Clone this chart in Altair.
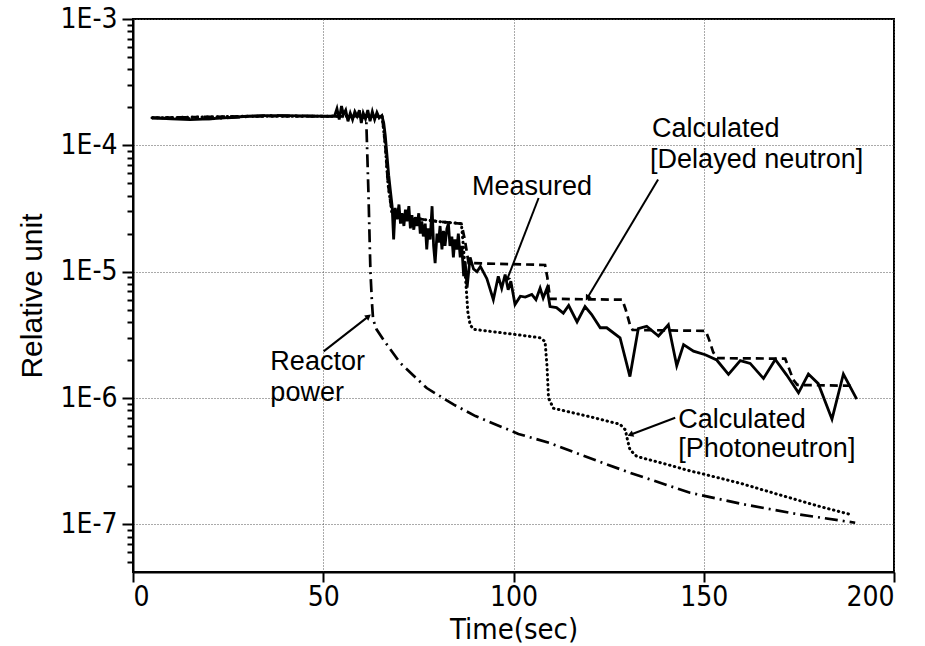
import altair as alt
import pandas as pd

# ---------------- data ----------------
meas_t = [5, 10, 15, 20, 25, 30, 35, 40, 45, 50, 52, 53, 53.6, 54.2, 54.8, 55.3, 55.9, 56.5, 57.1,
          57.7, 58.3, 58.9, 59.5, 60.0, 60.5, 61.1, 61.7, 62.3, 62.9, 63.5, 64.1, 64.7, 65.4, 65.9,
          66.3, 66.8, 67.2, 67.6, 68.1, 68.5, 68.9, 69.4, 69.9, 70.3, 70.7, 71.2, 71.6, 72.0, 72.5,
          72.9, 73.3, 73.8, 74.2, 74.6, 75.1, 75.5, 75.9, 76.3, 76.8, 77.2, 77.6, 78.1, 78.6, 79.0,
          79.4, 79.9, 80.3, 80.7, 81.2, 81.6, 82.0, 82.5, 82.9, 83.3, 83.8, 84.2, 84.6, 85.1, 85.5,
          86.0, 86.4, 86.9, 87.3, 87.8, 88.6, 89.5, 90.4, 91.3, 93.0, 94.7, 96.0, 96.9, 97.8, 98.6,
          99.3, 100.4, 101.8, 103.1, 104.8, 105.9, 107.0, 107.8, 108.8, 109.6, 111.3, 113.1, 114.5,
          116.7, 118.8, 120.5, 122.8, 124.5, 128.0, 130.6, 132.8, 135.0, 138.1, 140.7, 142.9, 144.7,
          147.3, 150.4, 153.4, 156.5, 159.6, 162.2, 165.7, 168.8, 171.8, 174.9, 177.5, 180.1, 183.7,
          186.7, 190.2]
meas_v = [1.65e-4, 1.62e-4, 1.6e-4, 1.62e-4, 1.66e-4, 1.7e-4, 1.72e-4, 1.72e-4, 1.71e-4, 1.7e-4,
          1.7e-4, 1.72e-4, 1.95e-4, 1.6e-4, 2.05e-4, 1.75e-4, 1.9e-4, 1.55e-4, 1.8e-4, 1.6e-4,
          1.85e-4, 1.7e-4, 1.9e-4, 1.5e-4, 1.8e-4, 1.62e-4, 1.9e-4, 1.55e-4, 1.85e-4, 1.6e-4,
          1.82e-4, 1.65e-4, 1.72e-4, 1.5e-4, 1.2e-4, 8e-5, 5.8e-5, 4.5e-5, 3.3e-5, 1.8e-5, 3.2e-5,
          2.6e-5, 3.4e-5, 2.4e-5, 2.9e-5, 2.3e-5, 3.1e-5, 2.5e-5, 3.3e-5, 2.2e-5, 2.8e-5, 2.15e-5,
          2.7e-5, 2.3e-5, 2.9e-5, 2.0e-5, 2.5e-5, 1.9e-5, 2.4e-5, 1.5e-5, 2.2e-5, 1.8e-5, 3.3e-5,
          1.6e-5, 1.17e-5, 2.0e-5, 1.7e-5, 2.3e-5, 1.5e-5, 2.1e-5, 1.6e-5, 2.2e-5, 2.4e-5, 1.6e-5,
          1.9e-5, 1.3e-5, 1.8e-5, 1.5e-5, 2.0e-5, 1.3e-5, 1.6e-5, 9.2e-6, 1.2e-5, 7.5e-6, 1.3e-5,
          1.05e-5, 1.0e-5, 1.1e-5, 8.8e-6, 6.0e-6, 9.2e-6, 7.4e-6, 9.5e-6, 7.2e-6, 8.4e-6, 5.5e-6,
          6.4e-6, 6.3e-6, 6.6e-6, 6.0e-6, 7.4e-6, 6.2e-6, 7.4e-6, 5.3e-6, 5.2e-6, 4.7e-6, 5.4e-6,
          4.0e-6, 5.3e-6, 4.6e-6, 3.6e-6, 3.6e-6, 3.0e-6, 1.48e-6, 3.55e-6, 3.7e-6, 3.1e-6, 3.8e-6,
          1.8e-6, 2.65e-6, 2.35e-6, 2.2e-6, 2.0e-6, 1.54e-6, 1.98e-6, 1.88e-6, 1.43e-6, 2.02e-6,
          1.52e-6, 1.1e-6, 1.55e-6, 1.3e-6, 6.8e-7, 1.55e-6, 9.8e-7]

delay_t = [5, 30, 50, 64, 65.5, 66.3, 67, 68, 72, 80, 86.3, 87.2, 88.2, 108.3, 108.9, 109.6,
           128.6, 129.5, 130.6, 131.3, 150.5, 151.4, 152.5, 153.5, 171.4, 172.3, 173.5, 174.6, 189.8]
delay_v = [1.65e-4, 1.7e-4, 1.7e-4, 1.7e-4, 1.68e-4, 1.0e-4, 5e-5, 3.0e-5, 2.7e-5, 2.5e-5,
           2.4e-5, 1.8e-5, 1.17e-5, 1.13e-5, 9e-6, 6.1e-6, 6.0e-6, 5.0e-6, 3.8e-6, 3.46e-6,
           3.4e-6, 2.9e-6, 2.3e-6, 2.07e-6, 2.05e-6, 1.75e-6, 1.4e-6, 1.27e-6, 1.25e-6]

photo_t = [5, 30, 50, 64, 65.5, 66.3, 67, 68, 72, 80, 86.3, 86.9, 87.5, 88.0, 88.6, 89.5, 100,
           107, 108.3, 108.8, 109.2, 110.5, 120.2, 128.0, 129.4, 130.0, 130.6, 132.4, 140, 146.4,
           150, 160, 170.9, 180, 188.9]
photo_v = [1.65e-4, 1.7e-4, 1.7e-4, 1.7e-4, 1.68e-4, 1.0e-4, 5e-5, 3.0e-5, 2.7e-5, 2.5e-5,
           2.4e-5, 1.5e-5, 8e-6, 4.8e-6, 3.8e-6, 3.5e-6, 3.2e-6, 3.0e-6, 2.8e-6, 1.8e-6, 1.0e-6,
           8.3e-7, 7.1e-7, 6.2e-7, 5.6e-7, 4.6e-7, 3.9e-7, 3.45e-7, 3.0e-7, 2.65e-7, 2.5e-7,
           2.1e-7, 1.68e-7, 1.4e-7, 1.19e-7]

power_t = [5, 20, 35, 50, 60, 61.3, 61.9, 62.4, 62.8, 63.1, 64.0, 65.8, 70.2, 77.2, 84.2, 90,
           101.3, 109.6, 118.3, 130, 146.4, 160, 175, 189.8]
power_v = [1.65e-4, 1.62e-4, 1.72e-4, 1.7e-4, 1.7e-4, 1.6e-4, 4e-5, 1e-5, 5.7e-6, 4.2e-6,
           3.5e-6, 2.9e-6, 1.9e-6, 1.2e-6, 8.9e-7, 7.2e-7, 5.2e-7, 4.4e-7, 3.5e-7, 2.6e-7,
           1.78e-7, 1.45e-7, 1.2e-7, 1.03e-7]

# annotation leader lines (start t, start v, end t, end v) and arrow-head angles
ann_t1 = [106.6, 138.0, 50.1, 142.5]
ann_v1 = [3.83e-5, 5.36e-5, 2.34e-6, 6.98e-7]
ann_t2 = [98.3, 119.4, 61.9, 130.7]
ann_v2 = [8.65e-6, 6.19e-6, 4.43e-6, 5.12e-7]
ann_angle = [201, 211, 52, 249]

label_text = ["Measured", "Calculated", "[Delayed neutron]", "Reactor", "power",
              "Calculated", "[Photoneutron]"]
label_t = [89.1, 136.4, 135.9, 36.1, 36.1, 143.3, 143.3]
label_v = [4.07e-5, 1.17e-4, 6.65e-5, 1.66e-6, 9.5e-7, 5.8e-7, 3.4e-7]

x_ticks = [0, 50, 100, 150, 200]
y_ticks = [m * 10.0 ** e for e in range(-8, -2) for m in range(1, 10)
           if 4.2e-8 <= m * 10.0 ** e <= 1.0001e-3]

# ---------------- chart ----------------
FONT = "Liberation Sans"
NARROW = "DejaVu Sans Condensed, Liberation Sans"
MAJOR = "abs(log(datum.value)/LN10 - round(log(datum.value)/LN10)) < 0.001"
xscale = alt.Scale(domain=[0, 200], nice=False, zero=False)
yscale = alt.Scale(type="log", domain=[4.2e-8, 1e-3], nice=False)
xenc = alt.X("t:Q", scale=xscale,
             axis=alt.Axis(values=x_ticks, title="Time(sec)", ticks=True, tickSize=10,
                           tickWidth=2, labelPadding=1, titlePadding=4, grid=True,
                           format="d", labelFont=NARROW, labelFontSize=28,
                           titleFont=NARROW, titleFontSize=29))
yenc = alt.Y("v:Q", scale=yscale,
             axis=alt.Axis(values=y_ticks, title="Relative unit", ticks=True, labelPadding=5,
                           titlePadding=12, grid=True, labelOverlap=False,
                           labelFont=NARROW, labelFontSize=28,
                           titleFont=FONT, titleFontSize=30, tickWidth=2,
                           tickSize={"condition": {"test": MAJOR, "value": 11}, "value": 6},
                           gridOpacity={"condition": {"test": MAJOR, "value": 1}, "value": 0},
                           labelExpr="(" + MAJOR + ") ? '1E' + round(log(datum.value)/LN10) : ''"))

def df_of(t, v):
    return pd.DataFrame({"t": t, "v": v})

power = alt.Chart(df_of(power_t, power_v)).mark_line(
    color="black", strokeWidth=2.7, strokeDash=[13, 5, 2, 5]).encode(x=xenc, y=yenc)
photo = alt.Chart(df_of(photo_t, photo_v)).mark_line(
    color="black", strokeWidth=3, strokeDash=[0.5, 4.5], strokeCap="round").encode(x=xenc, y=yenc)
delay = alt.Chart(df_of(delay_t, delay_v)).mark_line(
    color="black", strokeWidth=2.7, strokeDash=[8, 5]).encode(x=xenc, y=yenc)
meas = alt.Chart(df_of(meas_t, meas_v)).mark_line(
    color="black", strokeWidth=2.8, strokeJoin="miter").encode(x=xenc, y=yenc)

ann_df = pd.DataFrame({"t": ann_t1, "v": ann_v1, "t2": ann_t2, "v2": ann_v2})
leaders = alt.Chart(ann_df).mark_rule(color="black", strokeWidth=2).encode(
    x=xenc, y=yenc, x2="t2:Q", y2="v2:Q")
heads = alt.Chart(pd.DataFrame({"t": ann_t2, "v": ann_v2, "a": ann_angle})).mark_point(
    shape="triangle-up", filled=True, color="black", opacity=1, size=45).encode(
    x=xenc, y=yenc, angle=alt.Angle("a:Q", scale=None))

labels = alt.Chart(pd.DataFrame({"t": label_t, "v": label_v, "s": label_text})).mark_text(
    align="left", baseline="alphabetic", font=FONT, fontSize=27, color="black").encode(
    x=xenc, y=yenc, text="s:N")

chart = alt.layer(power, photo, delay, meas, leaders, heads, labels).properties(
    width=761, height=553,
    autosize=alt.AutoSizeParams(type="none"),
    padding={"left": 133, "top": 19, "right": 31, "bottom": 74},
    background="white",
).configure_view(stroke="black", strokeWidth=2).configure_axis(
    domainColor="black", domainWidth=2, tickColor="black", tickOpacity=1,
    labelColor="black", titleFontWeight="normal", titleColor="black",
    gridColor="#555555", gridDash=[1, 2], gridWidth=1,
)

chart.save("out.html", embed_options={"renderer": "svg", "actions": False})
